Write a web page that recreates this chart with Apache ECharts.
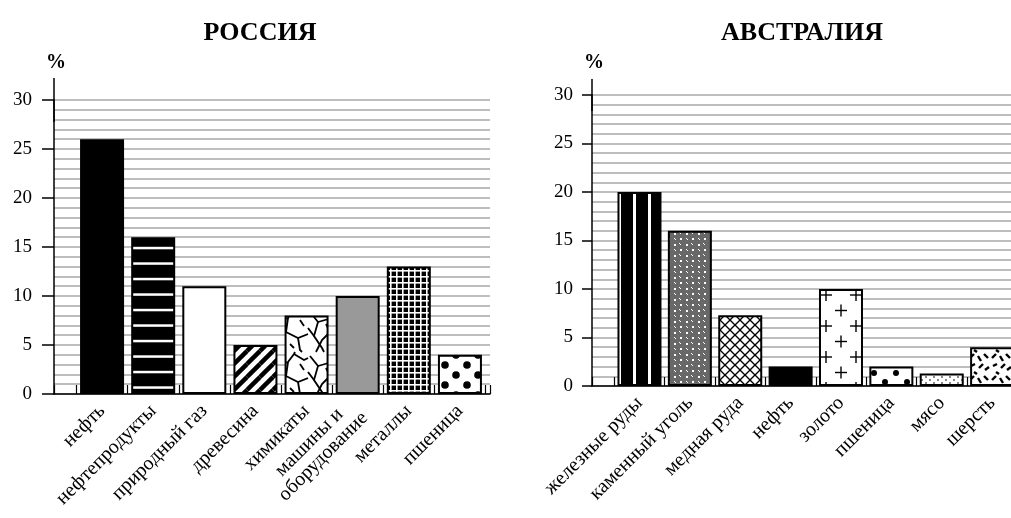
<!DOCTYPE html>
<html>
<head>
<meta charset="utf-8">
<script src="https://cdn.jsdelivr.net/npm/echarts@6/dist/echarts.min.js"></script>
<style>
html,body{margin:0;padding:0;background:#fff;overflow:hidden;width:1011px;height:518px;}
#c{width:1030px;height:518px;}
</style>
</head>
<body>
<div id="c"></div>
<script>
// ---- data ----
const ruTitle = 'РОССИЯ';
const auTitle = 'АВСТРАЛИЯ';
const ruCategories = ['нефть', 'нефтепродукты', 'природный газ', 'древесина', 'химикаты', 'машины и\nоборудование', 'металлы', 'пшеница'];
const ruValues = [26, 16, 11, 5, 8, 10, 13, 4];
const auCategories = ['железные руды', 'каменный уголь', 'медная руда', 'нефть', 'золото', 'пшеница', 'мясо', 'шерсть'];
const auValues = [20, 16, 7.3, 2, 10, 2, 1.3, 4];
const yMin = 0, yMax = 30, yStep = 5;
const yUnit = '%';

// ---- patterns (styles) ----
function tile(w, h, bg, draw) {
  const c = document.createElement('canvas');
  c.width = w; c.height = h;
  const g = c.getContext('2d');
  if (bg) { g.fillStyle = bg; g.fillRect(0, 0, w, h); }
  for (const dx of [-w, 0, w]) for (const dy of [-h, 0, h]) {
    g.save(); g.translate(dx, dy); draw(g); g.restore();
  }
  return { image: c, repeat: 'repeat' };
}
function lines(g, segs, lw, col) {
  g.strokeStyle = col || '#000'; g.lineWidth = lw; g.lineCap = 'butt';
  for (const s of segs) {
    g.beginPath(); g.moveTo(s[0][0], s[0][1]);
    for (let i = 1; i < s.length; i++) g.lineTo(s[i][0], s[i][1]);
    g.stroke();
  }
}
function dots(g, pts, r, col) {
  g.fillStyle = col || '#000';
  for (const p of pts) { g.beginPath(); g.arc(p[0], p[1], r, 0, Math.PI * 2); g.fill(); }
}
function plus(g, x, y, a) { lines(g, [[[x - a, y], [x + a, y]], [[x, y - a], [x, y + a]]], 1.4); }

const pBlack = '#000';
const pWhite = '#fff';
const pGray = '#999';
const pHoriz = tile(8, 31, '#000', g => { g.fillStyle = '#fff'; g.fillRect(0, -1.2, 8, 2.5); g.fillRect(0, 14.3, 8, 2.5); });
const pDiag = tile(13, 13, '#fff', g => lines(g, [[[0, 13], [13, 0]]], 4.5));
const pCrack = tile(44, 44, '#fff', g => lines(g, [
  [[2, 4], [10, 14], [6, 28], [14, 40], [16, 44]],
  [[10, 14], [24, 10], [30, 2], [31, 0]],
  [[24, 10], [22, 24], [34, 30], [44, 26]],
  [[22, 24], [14, 32], [8, 44]],
  [[34, 30], [36, 42], [38, 44]],
  [[30, 2], [40, 8], [44, 6]],
  [[0, 20], [6, 28]],
  [[18, 16], [22, 24]],
  [[36, 12], [40, 18]],
  [[26, 36], [30, 40]]
], 1.8));
const pGrid = tile(6, 6, '#000', g => { g.fillStyle = '#fff'; g.fillRect(0, 0, 6, 1.6); g.fillRect(0, 0, 1.6, 6); });
const pDotsBig = tile(22, 20, '#fff', g => dots(g, [[5, 5], [16, 15]], 3.8));
const pVert = tile(15, 4, '#000', g => { g.fillStyle = '#fff'; g.fillRect(3, 0, 3, 4); });
const pCoal = tile(12, 11, '#686868', g => {
  g.fillStyle = '#fff'; g.fillRect(2, 2, 2, 2); g.fillRect(8, 7, 2, 2);
  lines(g, [[[7, 1], [9, 3]], [[2, 7], [4, 9]]], 1, '#fff');
});
const pCross = tile(10, 10, '#fff', g => lines(g, [[[0, 0], [10, 10]], [[0, 10], [10, 0]]], 1.3));
const pPlus = tile(30, 31, '#fff', g => { plus(g, 16, 16, 6); plus(g, 1, 0.5, 6); });
const pDotsSmall = tile(22, 18, '#fff', g => dots(g, [[5, 4], [16, 13]], 3));
const pSpeck = tile(8, 6, '#fff', g => { g.fillStyle = '#888'; g.fillRect(1, 1, 2, 2); g.fillRect(5, 4, 2, 2); });
const pDash = tile(22, 22, '#fff', g => lines(g, [
  [[2, 6], [6, 2]], [[10, 4], [13, 9]], [[16, 2], [20, 6]], [[3, 14], [7, 12]],
  [[11, 16], [15, 12]], [[17, 18], [21, 15]], [[6, 20], [9, 22]]
], 2.4));

const ruPatterns = [pBlack, pHoriz, pWhite, pDiag, pCrack, pGray, pGrid, pDotsBig];
const auPatterns = [pVert, pCoal, pCross, pBlack, pPlus, pDotsSmall, pSpeck, pDash];

// ---- chart ----
const serif = "'Liberation Serif', 'Times New Roman', serif";
const gridLine = { color: '#a8a8a8', width: 1.5 };

function bgX(gi) {
  return {
    gridIndex: gi, type: 'value', min: 0, max: 1, interval: 1,
    axisLine: { show: true, lineStyle: { color: '#000', width: 1.5 } },
    axisTick: { show: true, inside: true, length: 9, lineStyle: { color: '#000', width: 1.2 } },
    axisLabel: { show: false }, splitLine: { show: false }
  };
}
function catX(gi, cats) {
  return {
    gridIndex: gi, type: 'category', data: cats,
    axisLine: { show: false },
    axisTick: { show: true, inside: true, length: 9, lineStyle: { color: '#000', width: 1.2 } },
    axisLabel: {
      interval: 0, rotate: 45, margin: 14, color: '#000', fontFamily: serif, fontSize: 20,
      formatter: v => v.indexOf('\n') >= 0 ? v.split('\n').map(s => '{c|' + s + '}').join('\n') : v,
      rich: { c: { align: 'center', fontFamily: serif, fontSize: 20, color: '#000', lineHeight: 20 } }
    }
  };
}
function bgY(gi, tickLen, margin, ext, nameGap) {
  return {
    gridIndex: gi, type: 'value', min: yMin, max: yMax, interval: yStep,
    name: yUnit, nameLocation: 'end', nameGap: nameGap,
    nameTextStyle: { fontFamily: serif, fontWeight: 'bold', fontSize: 20, color: '#000', align: 'left', verticalAlign: 'middle', padding: [0, 0, 0, -8] },
    axisLine: { show: true, symbol: ['none', 'rect'], symbolSize: [1.5, ext * 2], lineStyle: { color: '#000', width: 1.5 } },
    axisTick: { show: true, length: tickLen, lineStyle: { color: '#000', width: 1.5 } },
    axisLabel: { margin: margin, color: '#000', fontFamily: serif, fontSize: 19 },
    splitLine: { show: true, lineStyle: gridLine },
    minorTick: { show: false, splitNumber: 5 },
    minorSplitLine: { show: true, lineStyle: gridLine }
  };
}
function hidY(gi) { return { gridIndex: gi, type: 'value', min: yMin, max: yMax, show: false }; }
function barSeries(xi, vals, pats) {
  return {
    type: 'bar', xAxisIndex: xi, yAxisIndex: xi, barWidth: 44,
    data: vals.map((v, i) => ({ value: v, itemStyle: { color: pats[i] } })),
    itemStyle: { borderColor: '#000', borderWidth: 2 }
  };
}

const chart = echarts.init(document.getElementById('c'), null, { renderer: 'canvas' });
chart.setOption({
  animation: false,
  backgroundColor: '#fff',
  title: [
    { text: ruTitle, left: 255, top: 15, textAlign: 'center', textStyle: { fontFamily: serif, fontWeight: 'bold', fontSize: 26, color: '#000' } },
    { text: auTitle, left: 797, top: 15, textAlign: 'center', textStyle: { fontFamily: serif, fontWeight: 'bold', fontSize: 26, color: '#000' } }
  ],
  grid: [
    { left: 54, top: 100, width: 436, height: 294 },
    { left: 76.5, top: 100, width: 409, height: 294 },
    { left: 592, top: 95, width: 430, height: 291 },
    { left: 614.3, top: 95, width: 403, height: 291 }
  ],
  xAxis: [bgX(0), catX(1, ruCategories), bgX(2), catX(3, auCategories)],
  yAxis: [bgY(0, 12, 22, 22, 37), hidY(1), bgY(2, 10, 19, 16, 32), hidY(3)],
  series: [barSeries(1, ruValues, ruPatterns), barSeries(3, auValues, auPatterns)]
});
</script>
</body>
</html>
